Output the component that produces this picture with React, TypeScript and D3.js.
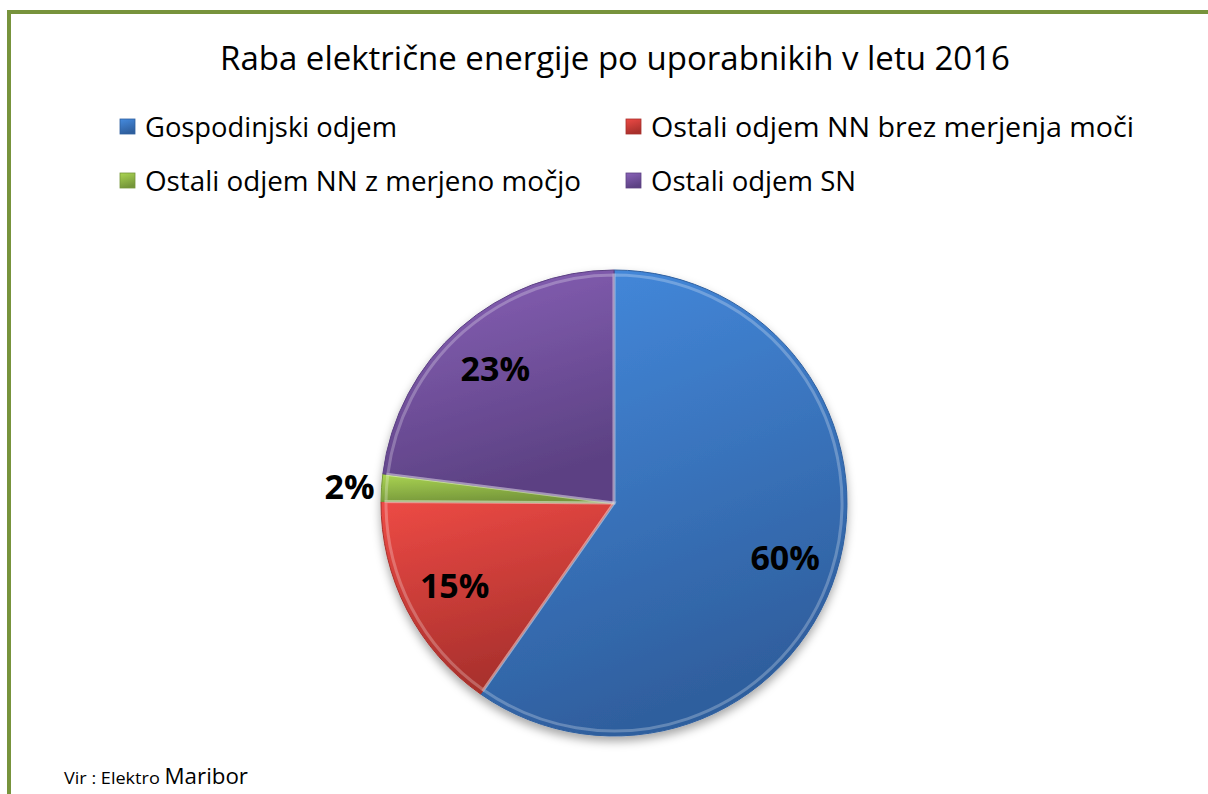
import React from 'react'
import * as d3 from 'd3'

// Raba električne energije 2016 - deleži po skupinah uporabnikov
const categories = [
  'Gospodinjski odjem',
  'Ostali odjem NN brez merjenja moči',
  'Ostali odjem NN z merjeno močjo',
  'Ostali odjem SN',
]
const shares = [59.7, 15.4, 1.9, 23.0]
const percentLabels = ['60%', '15%', '2%', '23%']
const colors = ['#3f7fcc', '#d9443f', '#9cc34c', '#7d5aa8']
const darkColors = ['#2f5f9e', '#a8302c', '#75963a', '#5c4183']

const W = 1208
const H = 794

type Slice = { name: string; value: number; i: number }

export default function App() {
  const cx = 614
  const cy = 503
  const R = 233

  const data: Slice[] = categories.map((name, i) => ({ name, value: shares[i], i }))
  const pie = d3.pie<Slice>().value(d => d.value).sort(null)
  const arcs = pie(data)
  const arc = d3.arc<d3.PieArcDatum<Slice>>().innerRadius(0).outerRadius(R)
  const hlArc = d3.arc<d3.PieArcDatum<Slice>>().innerRadius(0).outerRadius(R - 5)
  const labelArc = d3.arc<d3.PieArcDatum<Slice>>().innerRadius(R * 0.77).outerRadius(R * 0.77)
  const outerArc = d3.arc<d3.PieArcDatum<Slice>>().innerRadius(R + 32).outerRadius(R + 32)

  // legend layout: two columns, two rows
  const legendX = d3.scaleOrdinal<number, number>().domain([0, 1]).range([120, 626])
  const legendY = d3.scaleOrdinal<number, number>().domain([0, 1]).range([137, 191])
  const legendWidths = [252, 483, 436, 205]

  const font = "'Open Sans', 'Noto Sans', sans-serif"

  return (
    <svg width={W} height={H} style={{ position: 'absolute', left: 0, top: 0, background: '#fff' }}>
      <defs>
        {colors.map((c, i) => (
          <linearGradient key={i} id={'g' + i} x1="0" y1="0" x2="0.3" y2="1">
            <stop offset="0%" stopColor={d3.color(c)!.brighter(0.25).toString()} />
            <stop offset="100%" stopColor={darkColors[i]} />
          </linearGradient>
        ))}
        <filter id="shadow" x="-20%" y="-20%" width="140%" height="140%">
          <feDropShadow dx="0" dy="5" stdDeviation="5" floodColor="#000" floodOpacity="0.35" />
        </filter>
      </defs>
      <rect x={9} y={12} width={1260} height={900} fill="#fff" stroke="#77933c" strokeWidth={4} />

      <text x={615} y={70} textAnchor="middle" fontFamily={font} fontSize={32}
        textLength={790} lengthAdjust="spacingAndGlyphs" fill="#000">
        Raba električne energije po uporabnikih v letu 2016
      </text>

      {categories.map((name, i) => {
        const col = i === 0 || i === 2 ? 0 : 1
        const row = i < 2 ? 0 : 1
        const x = legendX(col)
        const y = legendY(row)
        return (
          <g key={name}>
            <rect x={x} y={y - 18} width={15} height={15} fill={`url(#g${i})`} stroke={darkColors[i]} strokeWidth={0.8} />
            <text x={x + 25} y={y} fontFamily={font} fontSize={27} fill="#000"
              textLength={legendWidths[i]} lengthAdjust="spacingAndGlyphs">{name}</text>
          </g>
        )
      })}

      <g transform={`translate(${cx},${cy})`}>
        <g filter="url(#shadow)">
          {arcs.map(a => (
            <path key={a.data.name} d={arc(a) || ''} fill={`url(#g${a.data.i})`} stroke={darkColors[a.data.i]} strokeWidth={1} />
          ))}
        </g>
        {arcs.map(a => (
          <path key={'hl' + a.data.name} d={hlArc(a) || ''}
            fill="none" stroke="#fff" strokeOpacity={0.25} strokeWidth={3} />
        ))}
        {arcs.map(a => {
          const small = a.data.value < 5
          const [lx, ly] = small ? outerArc.centroid(a) : labelArc.centroid(a)
          return (
            <text key={'l' + a.data.name} x={lx} y={ly} textAnchor="middle" dominantBaseline="central"
              fontFamily={font} fontWeight="bold" fontSize={34} fill="#000">
              {percentLabels[a.data.i]}
            </text>
          )
        })}
      </g>

      <text x={64} y={784} fontFamily={font} fill="#000" textLength={184} lengthAdjust="spacingAndGlyphs">
        <tspan fontSize={17}>Vir : Elektro </tspan>
        <tspan fontSize={21}>Maribor</tspan>
      </text>
    </svg>
  )
}
